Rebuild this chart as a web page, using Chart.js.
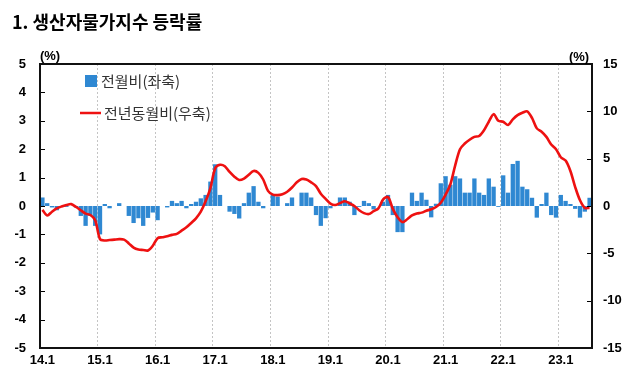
<!DOCTYPE html>
<html>
<head>
<meta charset="utf-8">
<script src="https://cdn.jsdelivr.net/npm/chart.js@4.4.1/dist/chart.umd.min.js"></script>
<style>
html,body{margin:0;padding:0;background:#fff;}
#wrap{width:640px;height:374px;position:relative;}
</style>
</head>
<body>
<div id="wrap"><canvas id="c" width="640" height="374"></canvas></div>
<script>
// ---- data ----
const years = ['14','15','16','17','18','19','20','21','22','23'];
const lastMonth = 7; // data end: 2023.7
const categories = [];
years.forEach((y, k) => {
  const n = (k === years.length - 1) ? lastMonth : 12;
  for (let m = 1; m <= n; m++) categories.push(y + '.' + m);
});
const tickLabels = ['14.1','15.1','16.1','17.1','18.1','19.1','20.1','21.1','22.1','23.1'];

// 전월비 (left axis, %)
const momChange = [
  0.3, 0.1, -0.05, -0.15, 0.0, -0.03, 0.0, -0.05, -0.35, -0.7, -0.35, -0.7,
  -1.0, 0.07, -0.08, 0.0, 0.1, 0.0, -0.35, -0.6, -0.43, -0.7, -0.42, -0.23,
  -0.5, 0.0, -0.05, 0.18, 0.1, 0.18, -0.08, 0.07, 0.15, 0.27, 0.39, 0.86,
  1.47, 0.39, 0.0, -0.2, -0.28, -0.44, 0.1, 0.47, 0.7, 0.15, -0.08, 0.0,
  0.39, 0.33, 0.0, 0.1, 0.3, 0.0, 0.47, 0.47, 0.3, -0.32, -0.7, -0.43,
  -0.08, 0.03, 0.3, 0.3, 0.15, -0.32, -0.03, 0.18, 0.1, -0.12, 0.0, 0.15,
  0.39, -0.32, -0.92, -0.92, 0.0, 0.47, 0.18, 0.47, 0.22, -0.4, 0.08, 0.8,
  1.05, 0.75, 1.05, 0.97, 0.47, 0.47, 0.97, 0.47, 0.39, 0.97, 0.68, -0.03,
  1.08, 0.47, 1.48, 1.59, 0.68, 0.59, 0.29, -0.41, 0.07, 0.47, -0.32, -0.41,
  0.39, 0.18, 0.07, -0.1, -0.41, -0.2, 0.29
];

// 전년동월비 (right axis, %)
const yoyChange = [
  -0.4, -1.0, -0.6, -0.25, -0.05, 0.1, 0.2, -0.1, -0.45, -0.8, -0.95, -1.5,
  -3.5, -3.65, -3.6, -3.55, -3.5, -3.55, -3.95, -4.4, -4.6, -4.65, -4.7, -4.2,
  -3.4, -3.3, -3.2, -3.05, -2.95, -2.6, -2.25, -1.8, -1.3, -0.6, 0.5, 1.9,
  4.0, 4.35, 4.2, 3.6, 3.1, 2.75, 2.9, 3.3, 3.7, 3.5, 2.8, 1.6,
  1.2, 1.15, 1.25, 1.5, 1.95, 2.5, 2.85, 2.8, 2.5, 2.1, 1.3, 0.75,
  0.25, 0.1, 0.3, 0.5, 0.28, 0.0, -0.45, -0.75, -0.85, -0.55, -0.25, 0.7,
  0.95, -0.3, -1.2, -1.7, -1.4, -1.0, -0.8, -0.7, -0.5, -0.35, -0.1, 0.35,
  1.2, 2.3, 4.3, 6.0, 6.6, 7.0, 7.3, 7.4, 8.0, 8.9, 9.7, 9.0,
  8.9, 8.55, 9.15, 9.6, 9.85, 10.0, 9.3, 8.2, 7.85, 7.3, 6.5, 6.0,
  5.15, 4.8, 3.7, 2.0, 0.6, -0.2, -0.2
];

const seriesNames = ['전월비(좌축)', '전년동월비(우축)'];
const titleText = '1. 생산자물가지수 등락률';
const unitText = '(%)';

// ---- style ----
const BAR_COLOR = '#2f88d2';
const LINE_COLOR = '#ee1111';
const TICK_FONT = { family: '"Liberation Sans", Arial, sans-serif', size: 13, weight: 'bold' };

const decor = {
  id: 'decor',
  afterDraw(chart) {
    const { ctx, chartArea: a, scales } = chart;
    ctx.save();
    // inward tick marks
    ctx.strokeStyle = '#000';
    ctx.lineWidth = 1;
    scales.y.ticks.forEach(t => {
      const y = Math.round(scales.y.getPixelForValue(t.value)) + 0.5;
      ctx.beginPath(); ctx.moveTo(a.left, y); ctx.lineTo(a.left + 5, y); ctx.stroke();
    });
    scales.y1.ticks.forEach(t => {
      const y = Math.round(scales.y1.getPixelForValue(t.value)) + 0.5;
      ctx.beginPath(); ctx.moveTo(a.right - 5, y); ctx.lineTo(a.right, y); ctx.stroke();
    });
    // frame
    ctx.lineWidth = 2;
    ctx.strokeStyle = '#111';
    ctx.strokeRect(a.left, a.top, a.right - a.left, a.bottom - a.top);

    // title
    ctx.fillStyle = '#000';
    ctx.textBaseline = 'alphabetic';
    ctx.textAlign = 'left';
    ctx.font = 'bold 18px "Noto Sans CJK KR", sans-serif';
    ctx.fillText(titleText, 12, 29);

    // units
    ctx.font = 'bold 13px "Liberation Sans", Arial, sans-serif';
    ctx.textBaseline = 'middle';
    ctx.textAlign = 'center';
    ctx.fillText(unitText, 50, 56);
    ctx.fillText(unitText, 579, 57);

    // legend
    ctx.textAlign = 'left';
    ctx.font = '15px "Noto Sans CJK KR", sans-serif';
    ctx.fillStyle = BAR_COLOR;
    ctx.fillRect(85, 75, 12, 12);
    ctx.fillStyle = '#333';
    ctx.fillText(seriesNames[0], 101, 81);
    ctx.strokeStyle = LINE_COLOR;
    ctx.lineWidth = 2.5;
    ctx.beginPath(); ctx.moveTo(80, 113); ctx.lineTo(101, 113); ctx.stroke();
    ctx.fillStyle = '#333';
    ctx.fillText(seriesNames[1], 104, 113);
    ctx.restore();
  }
};

new Chart(document.getElementById('c'), {
  type: 'bar',
  data: {
    labels: categories,
    datasets: [
      {
        type: 'line',
        label: seriesNames[1],
        data: yoyChange,
        yAxisID: 'y1',
        borderColor: LINE_COLOR,
        borderWidth: 2.6,
        pointRadius: 0,
        tension: 0.3,
        fill: false,
        order: 0
      },
      {
        type: 'bar',
        label: seriesNames[0],
        data: momChange,
        yAxisID: 'y',
        backgroundColor: BAR_COLOR,
        barPercentage: 0.9,
        categoryPercentage: 1.0,
        order: 1
      }
    ]
  },
  options: {
    responsive: false,
    animation: false,
    layout: { padding: { top: 64, left: 0, right: 0, bottom: 0 } },
    plugins: { legend: { display: false }, tooltip: { enabled: false }, title: { display: false } },
    scales: {
      x: {
        type: 'category',
        offset: true,
        grid: {
          offset: true,
          drawTicks: false,
          lineWidth: 1,
          color: (c) => (c.index !== undefined && c.index > 0 && c.index % 12 === 0) ? '#c4c4c4' : 'rgba(0,0,0,0)'
        },
        border: { display: false, dash: [2, 2] },
        ticks: {
          autoSkip: false,
          maxRotation: 0,
          minRotation: 0,
          padding: 5,
          color: '#000',
          font: TICK_FONT,
          callback: function (v, i) {
            const lab = categories[i];
            return tickLabels.includes(lab) ? lab : '';
          }
        },
        afterFit: (s) => { s.height = 26; }
      },
      y: {
        position: 'left',
        min: -5, max: 5,
        ticks: { stepSize: 1, color: '#000', font: TICK_FONT, padding: 14 },
        grid: { display: false, drawTicks: false },
        border: { display: false },
        afterFit: (s) => { s.width = 40; }
      },
      y1: {
        position: 'right',
        min: -15, max: 15,
        ticks: { stepSize: 5, color: '#000', font: TICK_FONT, padding: 11 },
        grid: { display: false, drawTicks: false },
        border: { display: false },
        afterFit: (s) => { s.width = 48; }
      }
    }
  },
  plugins: [decor]
});
</script>
</body>
</html>
